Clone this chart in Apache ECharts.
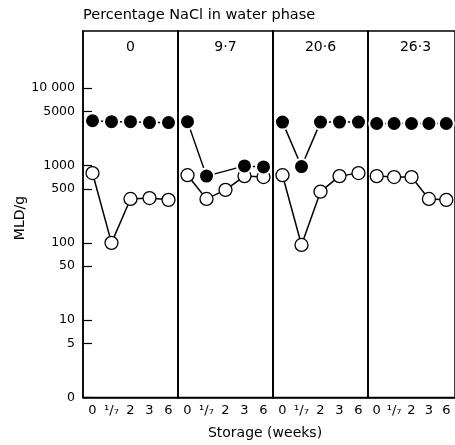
<!DOCTYPE html>
<html><head><meta charset="utf-8">
<script src="https://cdn.jsdelivr.net/npm/echarts@6/dist/echarts.min.js"></script>
<style>html,body{margin:0;padding:0;background:#fff}#c{width:455px;height:445px}</style>
</head><body><div id="c"></div>
<script>
const weeks = ['0', '\u00b9/\u2087', '2', '3', '6'];
const panelLabels = ['0', '9\u00b77', '20\u00b76', '26\u00b73'];
const yTickValues = [1, 5, 10, 50, 100, 500, 1000, 5000, 10000];
const yTickLabels = ['0', '5', '10', '50', '100', '500', '1000', '5000', '10 000'];
// MLD/g, open circles
const open0 = [800, 100, 370, 380, 360];
const open1 = [750, 370, 485, 730, 710];
const open2 = [750, 94, 460, 730, 800];
const open3 = [730, 710, 710, 370, 360];
// MLD/g, filled circles (null = no point)
const filled0 = [3800, 3700, 3700, 3600, 3600];
const filled1 = [3700, 730, null, 990, 960];
const filled2 = [3650, 970, 3650, 3650, 3650];
const filled3 = [3500, 3500, 3500, 3500, 3500];

const openSets = [open0, open1, open2, open3];
const filledSets = [filled0, filled1, filled2, filled3];

const FONT = 'DejaVu Sans';
const gridLeft = 83, panelW = 95, gridTop = 31, gridBottom = 47.5;

const grids = [], xAxes = [], yAxes = [], series = [], graphics = [];
for (let i = 0; i < 4; i++) {
  grids.push({left: gridLeft + panelW * i, top: gridTop, width: panelW, bottom: gridBottom,
    show: true, borderColor: '#000', borderWidth: 1.5, backgroundColor: 'transparent'});
  xAxes.push({type: 'category', gridIndex: i, data: weeks, boundaryGap: true,
    axisLine: {lineStyle: {color: '#000', width: 1.5}},
    axisTick: {inside: true, length: 7, lineStyle: {color: '#000', width: 1.2}},
    axisLabel: {color: '#000', fontFamily: FONT, fontSize: 13, margin: 7, interval: 0},
    splitLine: {show: false}});
  yAxes.push({type: 'log', logBase: 10, gridIndex: i, min: 1, max: 55000,
    axisLine: {show: true, lineStyle: {color: '#000', width: 1.5}},
    axisTick: {show: i === 0, inside: true, length: 9, lineStyle: {color: '#000', width: 1.2},
      customValues: yTickValues},
    axisLabel: {show: i === 0, color: '#000', fontFamily: FONT, fontSize: 12.5, margin: 8,
      customValues: yTickValues,
      formatter: v => { const k = yTickValues.findIndex(t => Math.abs(t - v) / t < 1e-6); return k >= 0 ? yTickLabels[k] : ''; }},
    splitLine: {show: false}, minorTick: {show: false}});
  series.push({type: 'line', xAxisIndex: i, yAxisIndex: i, data: openSets[i],
    symbol: 'circle', symbolSize: 13, showAllSymbol: true,
    lineStyle: {color: '#000', width: 1.5},
    itemStyle: {color: '#fff', borderColor: '#000', borderWidth: 1.3},
    z: 2, animation: false});
  series.push({type: 'line', xAxisIndex: i, yAxisIndex: i, data: filledSets[i],
    connectNulls: true, symbol: 'circle', symbolSize: 15, showAllSymbol: true,
    lineStyle: {color: '#000', width: 1.5},
    itemStyle: {color: '#000', borderColor: '#fff', borderWidth: 2},
    z: 3, animation: false});
  graphics.push({type: 'text', x: gridLeft + panelW * i + panelW / 2, y: 47,
    style: {text: panelLabels[i], fill: '#000', font: '14px "' + FONT + '"', textAlign: 'center', textVerticalAlign: 'middle'}});
}
graphics.push({type: 'text', x: 83, y: 15,
  style: {text: 'Percentage NaCl in water phase', fill: '#000', font: '14.5px "' + FONT + '"', textAlign: 'left', textVerticalAlign: 'middle'}});
graphics.push({type: 'text', x: 265, y: 433,
  style: {text: 'Storage (weeks)', fill: '#000', font: '14px "' + FONT + '"', textAlign: 'center', textVerticalAlign: 'middle'}});
graphics.push({type: 'text', x: 20, y: 218, rotation: Math.PI / 2,
  style: {text: 'MLD/g', fill: '#000', font: '14px "' + FONT + '"', textAlign: 'center', textVerticalAlign: 'middle'}});

const chart = echarts.init(document.getElementById('c'), null, {renderer: 'canvas'});
chart.setOption({animation: false, backgroundColor: '#fff', grid: grids, xAxis: xAxes, yAxis: yAxes, series: series, graphic: graphics});
</script></body></html>
